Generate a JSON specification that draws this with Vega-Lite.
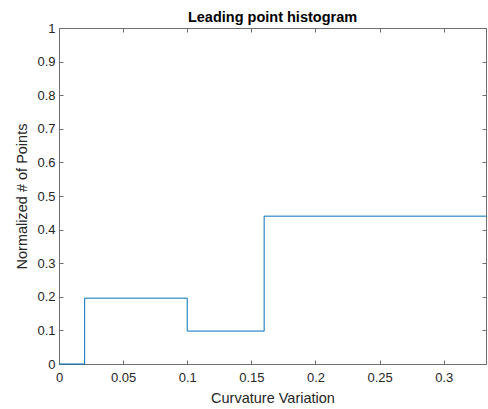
{
  "$schema": "https://vega.github.io/schema/vega-lite/v6.json",
  "width": 427,
  "height": 336,
  "autosize": {"type": "none"},
  "padding": {"left": 59, "top": 28, "right": 2, "bottom": 45},
  "background": "white",
  "title": {"text": "Leading point histogram", "font": "Liberation Sans", "fontSize": 14.5, "fontWeight": "bold", "color": "#000000", "offset": -3},
  "config": {"view": {"stroke": null}, "axis": {"grid": false, "labelFlush": false, "domainColor": "#6e6e6e", "tickColor": "#6e6e6e", "labelColor": "#262626", "titleColor": "#262626", "labelFont": "Liberation Sans", "titleFont": "Liberation Sans", "labelFontSize": 13, "titleFontSize": 14.5, "titleFontWeight": "normal", "tickSize": -4, "domainWidth": 1, "tickWidth": 1}},
  "data": {"values": [
    {"x": 0, "y": 0},
    {"x": 0.02, "y": 0.196},
    {"x": 0.1, "y": 0.098},
    {"x": 0.16, "y": 0.44},
    {"x": 0.333, "y": 0.44}
  ]},
  "resolve": {"axis": {"x": "independent", "y": "independent"}},
  "layer": [
    {
      "mark": {"type": "line", "interpolate": "step-after", "color": "#0072BD", "strokeWidth": 1},
      "encoding": {
        "x": {"field": "x", "type": "quantitative", "scale": {"domain": [0, 0.333], "nice": false, "zero": false},
          "axis": {"orient": "bottom", "title": "Curvature Variation", "values": [0, 0.05, 0.1, 0.15, 0.2, 0.25, 0.3], "format": "~g", "labelPadding": 11, "titlePadding": 7}},
        "y": {"field": "y", "type": "quantitative", "scale": {"domain": [0, 1], "nice": false},
          "axis": {"orient": "left", "title": "Normalized # of Points", "values": [0, 0.1, 0.2, 0.3, 0.4, 0.5, 0.6, 0.7, 0.8, 0.9, 1], "format": "~g", "labelPadding": 8, "titlePadding": 7}}
      }
    },
    {
      "mark": {"type": "line", "opacity": 0},
      "encoding": {
        "x": {"field": "x", "type": "quantitative", "axis": {"orient": "top", "title": null, "labels": false, "values": [0, 0.05, 0.1, 0.15, 0.2, 0.25, 0.3]}},
        "y": {"field": "y", "type": "quantitative", "axis": {"orient": "right", "title": null, "labels": false, "values": [0, 0.1, 0.2, 0.3, 0.4, 0.5, 0.6, 0.7, 0.8, 0.9, 1]}}
      }
    }
  ]
}
